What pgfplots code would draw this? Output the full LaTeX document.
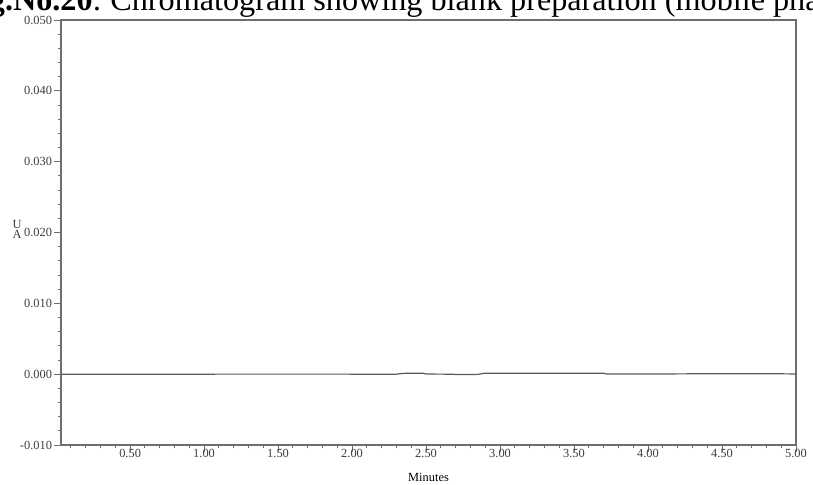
\documentclass[border=0pt]{standalone}
\usepackage{fontspec}
\setmainfont{Liberation Serif}
\usepackage{pgfplots}
\pgfplotsset{compat=1.18}
\definecolor{axgray}{HTML}{6E6E6E}
\definecolor{lngray}{HTML}{5A5A5A}
\definecolor{txgray}{HTML}{3C3C3C}
\begin{document}
\begin{tikzpicture}
\begin{axis}[name=ax, scale only axis, width=367.5pt, height=212.5pt,
  xmin=0.033, xmax=5.0, ymin=-0.010, ymax=0.050,
  clip=false,
  scaled y ticks=false, scaled x ticks=false,
  axis line style={axgray, line width=0.6pt},
  xtick={0.5,1.0,1.5,2.0,2.5,3.0,3.5,4.0,4.5,5.0},
  minor xtick={0.1,0.2,0.3,0.4,0.6,0.7,0.8,0.9,1.1,1.2,1.3,1.4,1.6,1.7,1.8,1.9,2.1,2.2,2.3,2.4,2.6,2.7,2.8,2.9,3.1,3.2,3.3,3.4,3.6,3.7,3.8,3.9,4.1,4.2,4.3,4.4,4.6,4.7,4.8,4.9},
  ytick={-0.01,0,0.01,0.02,0.03,0.04,0.05},
  minor y tick num=4,
  xtick pos=bottom, ytick pos=left,
  tick align=outside,
  major tick length=3.5pt, minor tick length=1.7pt,
  every tick/.style={axgray, line width=0.5pt},
  /pgf/number format/assume math mode=true,
  xticklabel={\pgfmathprintnumber[fixed,fixed zerofill,precision=2]{\tick}},
  yticklabel={\pgfmathprintnumber[fixed,fixed zerofill,precision=3]{\tick}},
  ticklabel style={font=\fontsize{6.2}{7}\selectfont, text=txgray, inner sep=0.8pt},
  xticklabel style={yshift=2.5pt},
  xlabel={Minutes},
  xlabel style={font=\fontsize{6.2}{7}\selectfont, text=black, inner sep=0pt, yshift=-7pt},
]
\addplot[lngray, line width=0.6pt] coordinates {
(0.033,0) (0.80,0) (1.50,0.00001) (2.30,0) (2.33,0.00008) (2.36,0.00012) (2.48,0.00012) (2.50,0.00002)
(2.65,0) (2.72,-0.00005) (2.85,-0.00003) (2.89,0.00012) (3.30,0.00012) (3.70,0.00012) (3.72,0.00003)
(4.00,0.00002) (4.30,0.00005) (4.60,0.00006) (4.90,0.00005) (5.0,0.00003)
};
\node[font=\fontsize{6.2}{5}\selectfont, text=txgray, align=center, inner sep=0pt]
  at (rel axis cs:0,0.508) [xshift=-22pt] {U\\A};
\end{axis}
\node[anchor=base west, inner sep=0pt, font=\fontsize{16.1}{18}\selectfont]
  at ([xshift=24.5pt, yshift=5pt]ax.north west) {Chromatogram showing blank preparation (mobile phase)};
\node[anchor=base east, inner sep=0pt, font=\fontsize{16.1}{18}\selectfont]
  at ([xshift=20.5pt, yshift=5pt]ax.north west) {\textbf{Fig.No.20}:};
\pgfresetboundingbox
\useasboundingbox ([xshift=-30.5pt, yshift=-19.5pt]ax.south west) rectangle ++(406.5pt,242pt);
\end{tikzpicture}
\end{document}
